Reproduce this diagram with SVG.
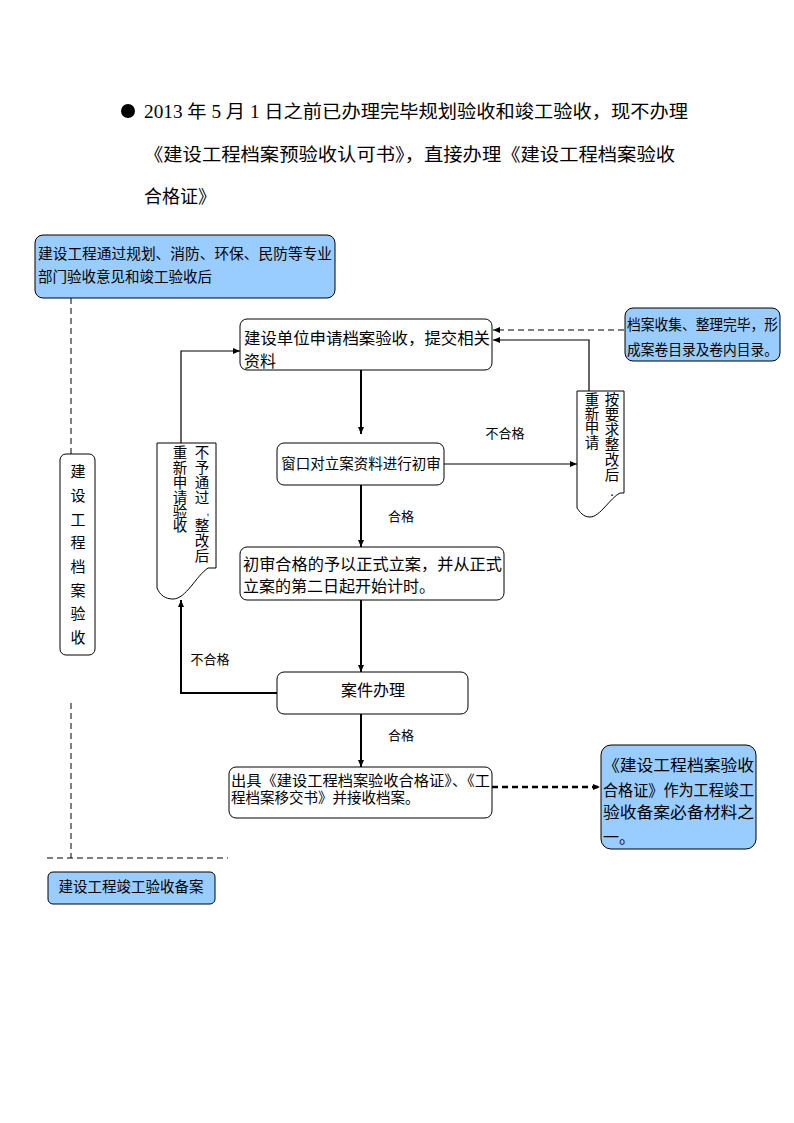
<svg xmlns="http://www.w3.org/2000/svg" width="794" height="1123" viewBox="0 0 794 1123">
<defs>
<marker id="ah" markerWidth="8" markerHeight="8" refX="7" refY="4" orient="auto" markerUnits="userSpaceOnUse">
<path d="M0,1 L7,4 L0,7 Z" fill="#000"/>
</marker>
<style>
.box{fill:#fff;stroke:#000;stroke-width:1}
.blue{fill:#99CCFF;stroke:#000;stroke-width:1}
.t{font-family:"Liberation Sans","Noto Sans CJK SC",sans-serif;fill:#000}
.h{font-family:"Liberation Serif","Noto Sans CJK SC",serif;font-size:18px;fill:#000}
.lbl{font-family:"Liberation Serif","Noto Sans CJK SC",serif;font-size:13px;fill:#000}
.c{fill:none;stroke:#000;stroke-width:1.2}
.cb{fill:none;stroke:#000;stroke-width:2}
.d{fill:none;stroke:#000;stroke-width:1;stroke-dasharray:6,4}
</style>
</defs>
<rect width="794" height="1123" fill="#fff"/>

<g id="header">
<circle cx="128" cy="111" r="7" fill="#000"/>
<text class="h" x="144" y="118" textLength="544" lengthAdjust="spacingAndGlyphs">2013 年 5 月 1 日之前已办理完毕规划验收和竣工验收，现不办理</text>
<text class="h" x="144" y="161" textLength="531" lengthAdjust="spacingAndGlyphs">《建设工程档案预验收认可书》，直接办理《建设工程档案验收</text>
<text class="h" x="144" y="203">合格证》</text>
</g>

<g id="connectors">
<line class="d" x1="71" y1="298" x2="71" y2="454"/>
<line class="d" x1="71" y1="703" x2="71" y2="858"/>
<line class="d" x1="47" y1="858" x2="228" y2="858"/>
<line class="d" x1="624" y1="330" x2="493" y2="330" marker-end="url(#ah)"/>
<polyline class="c" points="589,391 589,340 493,340" marker-end="url(#ah)"/>
<line class="cb" x1="361" y1="370" x2="361" y2="434" marker-end="url(#ah)"/>
<line class="c" x1="444" y1="464" x2="577" y2="464" marker-end="url(#ah)"/>
<line class="cb" x1="361" y1="485" x2="361" y2="547" marker-end="url(#ah)"/>
<polyline class="c" points="181,443 181,351 240,351" marker-end="url(#ah)"/>
<line class="cb" x1="361" y1="600" x2="361" y2="672" marker-end="url(#ah)"/>
<polyline class="cb" points="277,693 181,693 181,600" marker-end="url(#ah)"/>
<line class="cb" x1="361" y1="714" x2="361" y2="767" marker-end="url(#ah)"/>
<line x1="492" y1="787" x2="600" y2="787" stroke="#000" stroke-width="2.5" stroke-dasharray="6,4" marker-end="url(#ah)"/>
<text class="lbl" x="505" y="438" text-anchor="middle">不合格</text>
<text class="lbl" x="401" y="521" text-anchor="middle">合格</text>
<text class="lbl" x="210" y="664" text-anchor="middle">不合格</text>
<text class="lbl" x="401" y="740" text-anchor="middle">合格</text>
</g>

<g id="n1">
<rect class="blue" x="35" y="235" width="300" height="63" rx="8"/>
<text class="t" font-size="14.5" x="38" y="259" textLength="294" lengthAdjust="spacingAndGlyphs">建设工程通过规划、消防、环保、民防等专业</text>
<text class="t" font-size="14.5" x="38" y="282">部门验收意见和竣工验收后</text>
</g>

<g id="n2">
<rect class="box" x="240" y="319" width="252" height="51" rx="7"/>
<text class="t" font-size="16" x="244" y="344" textLength="246" lengthAdjust="spacingAndGlyphs">建设单位申请档案验收，提交相关</text>
<text class="t" font-size="16" x="244" y="367">资料</text>
</g>

<g id="n3">
<rect class="blue" x="625" y="308" width="155" height="53" rx="8"/>
<text class="t" font-size="14.5" x="627" y="330" textLength="151" lengthAdjust="spacingAndGlyphs">档案收集、整理完毕，形</text>
<text class="t" font-size="14.5" x="627" y="355" textLength="151" lengthAdjust="spacingAndGlyphs">成案卷目录及卷内目录。</text>
</g>

<g id="n4">
<rect class="box" x="277" y="443" width="167" height="42" rx="7"/>
<text class="t" font-size="14.5" x="361" y="469" text-anchor="middle">窗口对立案资料进行初审</text>
</g>

<g id="n5">
<path class="box" d="M577,391 H624 V493 H620 C610,498 600,517 590,517 C583,517 580,512 577,508 Z"/>
<g class="t" font-size="14.5" text-anchor="middle">
<text x="612" y="405">按</text><text x="612" y="420">要</text><text x="612" y="435">求</text><text x="612" y="450">整</text><text x="612" y="465">改</text><text x="612" y="480">后</text><text x="612" y="496">.</text>
<text x="592" y="405">重</text><text x="592" y="419">新</text><text x="592" y="433">申</text><text x="592" y="448">请</text>
</g>
</g>

<g id="n6">
<path class="box" d="M157,443 H216 V568 H208 C196,576 186,599 173,599 C165,599 160,595 157,588 Z"/>
<g class="t" font-size="14.5" text-anchor="middle">
<text x="202" y="458">不</text><text x="202" y="473">予</text><text x="202" y="488">通</text><text x="202" y="503">过</text><text x="208" y="515" font-size="10">,</text><text x="202" y="531">整</text><text x="202" y="546">改</text><text x="202" y="561">后</text>
<text x="180" y="458">重</text><text x="180" y="473">新</text><text x="180" y="488">申</text><text x="180" y="503">请</text><text x="180" y="517">验</text><text x="180" y="531">收</text>
</g>
</g>

<g id="n7">
<rect class="box" x="60" y="454" width="35" height="201" rx="6"/>
<g class="t" font-size="15" text-anchor="middle">
<text x="78" y="477">建</text><text x="78" y="501">设</text><text x="78" y="525">工</text><text x="78" y="548">程</text><text x="78" y="572">档</text><text x="78" y="596">案</text><text x="78" y="619">验</text><text x="78" y="643">收</text>
</g>
</g>

<g id="n8">
<rect class="box" x="240" y="547" width="264" height="53" rx="7"/>
<text class="t" font-size="16" x="243" y="570" textLength="259" lengthAdjust="spacingAndGlyphs">初审合格的予以正式立案，并从正式</text>
<text class="t" font-size="16" x="243" y="592">立案的第二日起开始计时。</text>
</g>

<g id="n9">
<rect class="box" x="277" y="672" width="191" height="42" rx="7"/>
<text class="t" font-size="16" x="373" y="696" text-anchor="middle">案件办理</text>
</g>

<g id="n10">
<rect class="box" x="229" y="767" width="263" height="51" rx="7"/>
<text class="t" font-size="14.5" x="231" y="786" textLength="259" lengthAdjust="spacingAndGlyphs">出具《建设工程档案验收合格证》、《工</text>
<text class="t" font-size="14.5" x="231" y="803">程档案移交书》并接收档案。</text>
</g>

<g id="n11">
<rect class="blue" x="601" y="745" width="155" height="104" rx="10"/>
<text class="t" font-size="16" x="603" y="771" textLength="151" lengthAdjust="spacingAndGlyphs">《建设工程档案验收</text>
<text class="t" font-size="16" x="603" y="796" textLength="151" lengthAdjust="spacingAndGlyphs">合格证》作为工程竣工</text>
<text class="t" font-size="16" x="603" y="818" textLength="151" lengthAdjust="spacingAndGlyphs">验收备案必备材料之</text>
<text class="t" font-size="16" x="603" y="843">一。</text>
</g>

<g id="n12">
<rect class="blue" x="48" y="872" width="167" height="32" rx="5"/>
<text class="t" font-size="14.5" x="131" y="892" text-anchor="middle">建设工程竣工验收备案</text>
</g>
</svg>
